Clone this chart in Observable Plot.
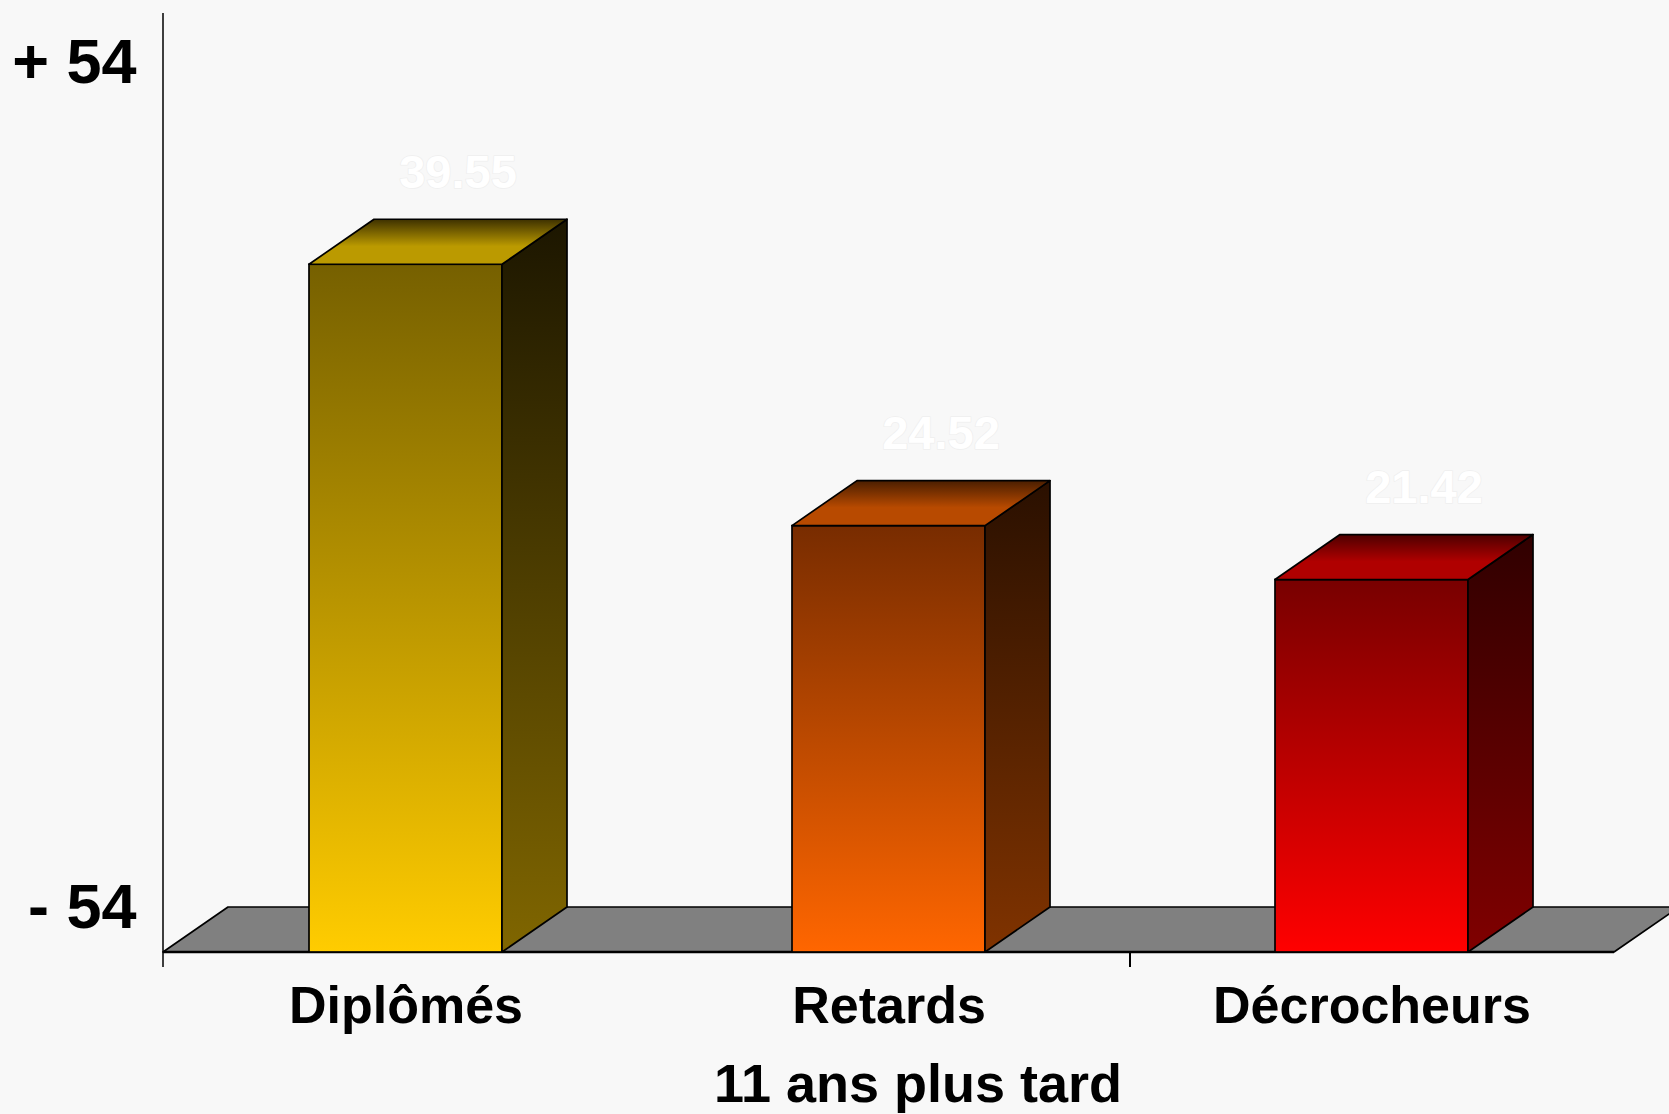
<!DOCTYPE html>
<html>
<head>
<meta charset="utf-8">
<script src="https://cdn.jsdelivr.net/npm/d3@7"></script>
<script src="https://cdn.jsdelivr.net/npm/@observablehq/plot@0.6"></script>
<style>
  html, body { margin: 0; padding: 0; background: #f8f8f8; overflow: hidden; }
  #chart svg { display: block; }
</style>
</head>
<body>
<div id="chart"></div>
<script>
// ---- data ----
const categories = ["Diplômés", "Retards", "Décrocheurs"];
const values = [39.55, 24.52, 21.42];
const yTickValues = [0, 48.6];
const yTickLabels = ["- 54", "+ 54"];
const xTitle = "11 ans plus tard";
const yMax = 54;
const boundaryTickBefore = ["Décrocheurs"];

// ---- palette ----
const frontTop    = ["#766000", "#782c00", "#780000"];
const frontBottom = ["#ffcc00", "#ff6600", "#ff0000"];
const sideTop     = ["#1c1600", "#2a1000", "#300000"];
const sideBottom  = ["#806600", "#803300", "#800000"];
const topBack     = ["#3e3100", "#4a1e00", "#4e0000"];
const topFront    = ["#bb9a00", "#b84a00", "#b00000"];

const data = categories.map((c, i) => ({category: c, value: values[i], i}));
const DX = 65, DY = -45;   // 3D depth offset in pixels
const FONT = "Liberation Sans, Arial, Helvetica, sans-serif";

function renderWith(fn) {
  return function(index, scales, vals, dims) { return fn(scales, dims); };
}

function addGrad(defs, id, stops) {
  const lg = defs.append("linearGradient").attr("id", id)
    .attr("x1", 0).attr("y1", 0).attr("x2", 0).attr("y2", 1);
  stops.forEach(([o, c]) => lg.append("stop").attr("offset", o).attr("stop-color", c));
}

// background: gradients, floor, axes lines
const floorMark = renderWith((s, d) => {
  const g = d3.create("svg:g");
  const defs = g.append("defs");
  categories.forEach((c, i) => {
    addGrad(defs, "front" + i, [[0, frontTop[i]], [1, frontBottom[i]]]);
    addGrad(defs, "side" + i, [[0, sideTop[i]], [1, sideBottom[i]]]);
    addGrad(defs, "top" + i, [[0, topBack[i]], [0.6, topFront[i]], [1, topFront[i]]]);
  });
  const [x0, x1] = s.x.range();
  const y0 = s.y(0);
  g.append("path")
    .attr("d", `M${x0},${y0}L${x1},${y0}L${x1 + DX},${y0 + DY}L${x0 + DX},${y0 + DY}Z`)
    .attr("fill", "#808080").attr("stroke", "#000").attr("stroke-width", 1.7)
    .attr("stroke-linejoin", "round");
  // front edge of floor (x axis line)
  g.append("line").attr("x1", x0).attr("x2", x1).attr("y1", y0).attr("y2", y0)
    .attr("stroke", "#000").attr("stroke-width", 2.5);
  // y axis line
  g.append("line").attr("x1", x0).attr("x2", x0).attr("y1", s.y(yMax)).attr("y2", y0 + 15)
    .attr("stroke", "#000").attr("stroke-width", 1.5);
  // category boundary ticks
  const gap = (s.x.step() - s.x.bandwidth()) / 2;
  boundaryTickBefore.forEach(c => {
    const bx = s.x(c) - gap;
    g.append("line").attr("x1", bx).attr("x2", bx).attr("y1", y0).attr("y2", y0 + 15)
      .attr("stroke", "#000").attr("stroke-width", 2);
  });
  return g.node();
});

// side and top faces of bars
const facesMark = renderWith((s, d) => {
  const g = d3.create("svg:g").attr("stroke", "#000").attr("stroke-width", 1.7)
    .attr("stroke-linejoin", "round");
  const bw = s.x.bandwidth();
  data.forEach(r => {
    const xl = s.x(r.category), xr = xl + bw, yt = s.y(r.value), yb = s.y(0);
    g.append("path")
      .attr("d", `M${xr},${yb}L${xr},${yt}L${xr + DX},${yt + DY}L${xr + DX},${yb + DY}Z`)
      .attr("fill", `url(#side${r.i})`);
    g.append("path")
      .attr("d", `M${xl},${yt}L${xr},${yt}L${xr + DX},${yt + DY}L${xl + DX},${yt + DY}Z`)
      .attr("fill", `url(#top${r.i})`);
  });
  return g.node();
});

const chart = Plot.plot({
  width: 1669,
  height: 1114,
  marginLeft: 163,
  marginRight: 55,
  marginTop: 13,
  marginBottom: 162,
  style: {background: "#f8f8f8", fontFamily: FONT, overflow: "visible"},
  x: {domain: categories, paddingInner: 0.6, paddingOuter: 0.3, axis: null},
  y: {domain: [0, yMax], axis: null},
  color: {type: "ordinal", domain: categories, range: categories.map((c, i) => `url(#front${i})`)},
  marks: [
    floorMark,
    Plot.barY(data, {x: "category", y: "value", fill: "category", stroke: "#000", strokeWidth: 1.7}),
    facesMark,
    Plot.text(data, {
      x: "category", y: "value", text: d => d.value.toFixed(2),
      dx: 52, dy: -92, fill: "#ffffff", stroke: "#efefef", strokeWidth: 1.5, paintOrder: "stroke",
      fontSize: 47, fontWeight: "bold", fontFamily: FONT
    }),
    Plot.text(data, {
      x: "category", text: "category", frameAnchor: "bottom", lineAnchor: "bottom",
      dy: 70, fontSize: 52, fontWeight: "bold", fill: "#000", fontFamily: FONT
    }),
    Plot.text([xTitle], {
      text: d => d, frameAnchor: "bottom", lineAnchor: "bottom",
      dx: 29, dy: 149, fontSize: 54, fontWeight: "bold", fill: "#000", fontFamily: FONT
    }),
    Plot.text(yTickValues, {
      y: d => d, text: (d, i) => yTickLabels[i], frameAnchor: "left", textAnchor: "end",
      dx: -27, dy: DY, fontSize: 63, fontWeight: "bold", fill: "#000", fontFamily: FONT
    })
  ]
});

document.getElementById("chart").appendChild(chart);
</script>
</body>
</html>
